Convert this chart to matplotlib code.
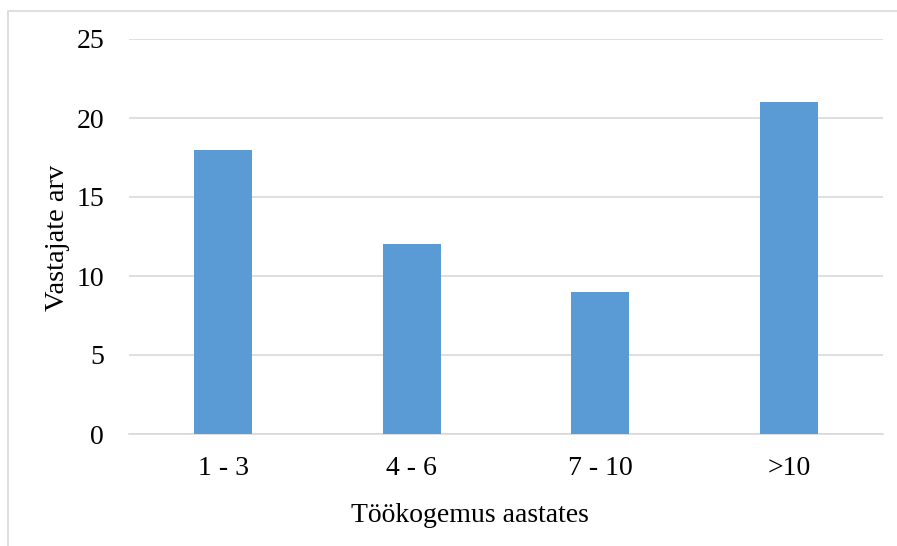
import matplotlib.pyplot as plt
from matplotlib.patches import Rectangle

categories = ["1 - 3", "4 - 6", "7 - 10", ">10"]
values = [18, 12, 9, 21]
y_ticks = [0, 5, 10, 15, 20, 25]

plt.rcParams['font.family'] = ['Liberation Serif', 'DejaVu Serif']

fig = plt.figure(figsize=(8.97, 5.46), dpi=100)
ax = fig.add_axes([129 / 897, 1 - 434 / 546, (883 - 129) / 897, (434 - 39) / 546])

x = range(len(categories))
ax.bar(x, values, width=0.31, color='#5B9BD5', zorder=3)

ax.set_xlim(-0.5, len(categories) - 0.5)
ax.set_ylim(0, 25)
ax.set_yticks(y_ticks)
ax.set_xticks(list(x))
ax.set_xticklabels(categories)
ax.grid(axis='y', color='#d9d9d9', linewidth=1.2, zorder=0)
for s in ['top', 'right', 'left']:
    ax.spines[s].set_visible(False)
ax.spines['bottom'].set_color('#d9d9d9')
ax.spines['bottom'].set_linewidth(1.2)
ax.tick_params(axis='both', length=0, labelsize=20, colors='black')
ax.tick_params(axis='y', pad=18)
ax.tick_params(axis='x', pad=16)

# axis titles placed in figure pixel coordinates
fig.text(57 / 897, 1 - 238 / 546, "Vastajate arv", fontsize=20.5,
         rotation=90, ha='center', va='center')
fig.text(470 / 897, 1 - 516 / 546, "Töökogemus aastates", fontsize=20,
         ha='center', va='center')

# light outer frame
fig.patches.append(Rectangle((8 / 897, -0.1), 1.2, 1 - 11 / 546 + 0.1,
                             transform=fig.transFigure, fill=False,
                             edgecolor='#d9d9d9', linewidth=1.2))

fig.savefig("out.png", dpi=100)
